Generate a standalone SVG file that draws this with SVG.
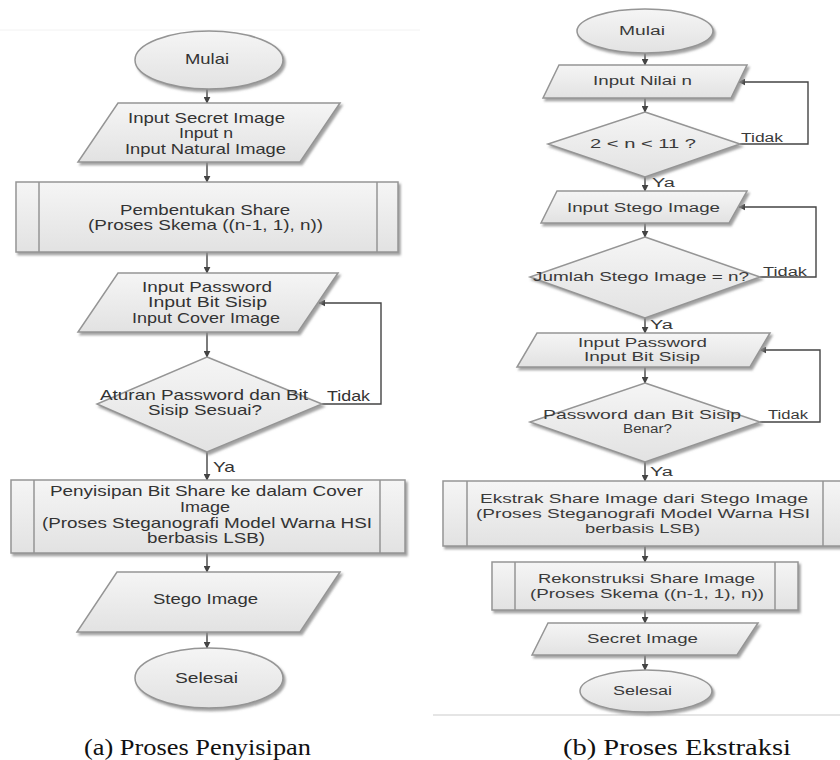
<svg xmlns="http://www.w3.org/2000/svg" width="840" height="760" viewBox="0 0 840 760">
<defs>
<linearGradient id="g" x1="0" y1="0" x2="0" y2="1">
<stop offset="0" stop-color="#f5f5f5"/>
<stop offset="1" stop-color="#e2e2e2"/>
</linearGradient>
<filter id="sh" x="-10%" y="-10%" width="130%" height="140%">
<feDropShadow dx="2" dy="2.5" stdDeviation="1.2" flood-color="#8a8a8a" flood-opacity="0.8"/>
</filter>
<marker id="ah" viewBox="0 0 10 10" refX="9" refY="5" markerWidth="7" markerHeight="7" orient="auto" markerUnits="userSpaceOnUse">
<path d="M0,0 L10,5 L0,10 z" fill="#444"/>
</marker>
</defs>
<style>
.s{fill:url(#g);stroke:#959595;stroke-width:1.5;filter:url(#sh)}
.in{stroke:#959595;stroke-width:1.5;fill:none}
.c{stroke:#444;stroke-width:1.4;fill:none;marker-end:url(#ah)}
text{font-family:"Liberation Sans",Arial,sans-serif;fill:#333;text-anchor:middle}
.a{font-size:14.5px}
.b{font-size:12.5px;fill:#3a3a3a}
.cap{font-family:"Liberation Serif","Times New Roman",serif;font-size:24px;fill:#111}
</style>
<rect width="840" height="760" fill="#fff"/>
<line x1="0" y1="30" x2="420" y2="30" stroke="#f2f2f2" stroke-width="1"/>
<line x1="433" y1="715" x2="840" y2="715" stroke="#dcdcdc" stroke-width="1.5"/>

<g id="connectors">
<line class="c" x1="207" y1="89" x2="207" y2="103"/>
<line class="c" x1="207" y1="162" x2="207" y2="182"/>
<line class="c" x1="207" y1="252" x2="207" y2="273"/>
<line class="c" x1="207" y1="332" x2="207" y2="357"/>
<polyline class="c" points="322,404 381,404 381,303 319,303"/>
<line class="c" x1="207" y1="452" x2="207" y2="480"/>
<line class="c" x1="207" y1="553" x2="207" y2="572"/>
<line class="c" x1="207" y1="632" x2="207" y2="648"/>

<line class="c" x1="645" y1="53" x2="645" y2="65"/>
<line class="c" x1="645" y1="98" x2="645" y2="112"/>
<polyline class="c" points="740,144 808,144 808,82 739,82"/>
<line class="c" x1="645" y1="177" x2="645" y2="191"/>
<line class="c" x1="645" y1="223" x2="645" y2="237"/>
<polyline class="c" points="760,277 816,277 816,207 739,207"/>
<line class="c" x1="645" y1="318" x2="645" y2="333"/>
<line class="c" x1="645" y1="367" x2="645" y2="383"/>
<polyline class="c" points="760,422 820,422 820,350 760,350"/>
<line class="c" x1="645" y1="462" x2="645" y2="481"/>
<line class="c" x1="645" y1="546" x2="645" y2="562"/>
<line class="c" x1="645" y1="610" x2="645" y2="623"/>
<line class="c" x1="645" y1="655" x2="645" y2="670"/>
</g>

<g id="a-mulai">
<ellipse class="s" cx="209" cy="60" rx="74" ry="29"/>
<text class="a" x="207" y="64" textLength="44" lengthAdjust="spacingAndGlyphs">Mulai</text>
</g>
<g id="a-input1">
<polygon class="s" points="118,103 340,103 300,162 78,162"/>
<text class="a" x="206.5" y="123" textLength="157" lengthAdjust="spacingAndGlyphs">Input Secret Image</text>
<text class="a" x="206" y="138" textLength="54" lengthAdjust="spacingAndGlyphs">Input n</text>
<text class="a" x="205.5" y="154" textLength="161" lengthAdjust="spacingAndGlyphs">Input Natural Image</text>
</g>
<g id="a-share">
<rect class="s" x="16" y="182" width="382" height="70"/>
<line class="in" x1="39" y1="182" x2="39" y2="252"/>
<line class="in" x1="377" y1="182" x2="377" y2="252"/>
<text class="a" x="205" y="215" textLength="170" lengthAdjust="spacingAndGlyphs">Pembentukan Share</text>
<text class="a" x="205.5" y="230" textLength="235" lengthAdjust="spacingAndGlyphs">(Proses Skema ((n-1, 1), n))</text>
</g>
<g id="a-input2">
<polygon class="s" points="118,273 338,273 298,332 78,332"/>
<text class="a" x="207" y="292" textLength="130" lengthAdjust="spacingAndGlyphs">Input Password</text>
<text class="a" x="207.5" y="307" textLength="119" lengthAdjust="spacingAndGlyphs">Input Bit Sisip</text>
<text class="a" x="206" y="323" textLength="148" lengthAdjust="spacingAndGlyphs">Input Cover Image</text>
</g>
<g id="a-decision">
<polygon class="s" points="207,357 322,404 207,452 97,404"/>
<text class="a" x="204" y="400" textLength="208" lengthAdjust="spacingAndGlyphs">Aturan Password dan Bit</text>
<text class="a" x="205" y="415" textLength="114" lengthAdjust="spacingAndGlyphs">Sisip Sesuai?</text>
</g>
<g id="a-labels">
<text class="a" x="348.5" y="401" textLength="43" lengthAdjust="spacingAndGlyphs">Tidak</text>
<text class="a" x="224" y="472" textLength="22" lengthAdjust="spacingAndGlyphs">Ya</text>
</g>
<g id="a-penyisipan">
<rect class="s" x="11" y="480" width="394" height="73"/>
<line class="in" x1="34" y1="480" x2="34" y2="553"/>
<line class="in" x1="380" y1="480" x2="380" y2="553"/>
<text class="a" x="206.5" y="496" textLength="313" lengthAdjust="spacingAndGlyphs">Penyisipan Bit Share ke dalam Cover</text>
<text class="a" x="205" y="512" textLength="50" lengthAdjust="spacingAndGlyphs">Image</text>
<text class="a" x="207" y="528" textLength="330" lengthAdjust="spacingAndGlyphs">(Proses Steganografi Model Warna HSI</text>
<text class="a" x="206" y="543" textLength="118" lengthAdjust="spacingAndGlyphs">berbasis LSB)</text>
</g>
<g id="a-stego">
<polygon class="s" points="117,572 340,572 300,632 77,632"/>
<text class="a" x="205.5" y="604" textLength="105" lengthAdjust="spacingAndGlyphs">Stego Image</text>
</g>
<g id="a-selesai">
<ellipse class="s" cx="209" cy="678" rx="74" ry="30"/>
<text class="a" x="206.5" y="683" textLength="63" lengthAdjust="spacingAndGlyphs">Selesai</text>
</g>

<g id="b-mulai">
<ellipse class="s" cx="645" cy="31" rx="68" ry="22"/>
<text class="b" x="642" y="35" textLength="46" lengthAdjust="spacingAndGlyphs">Mulai</text>
</g>
<g id="b-nilai">
<polygon class="s" points="559,65 747,65 731,98 543,98"/>
<text class="b" x="642.5" y="85" textLength="99" lengthAdjust="spacingAndGlyphs">Input Nilai n</text>
</g>
<g id="b-dec1">
<polygon class="s" points="645,112 740,144 645,177 548,144"/>
<text class="b" x="643" y="148" textLength="106" lengthAdjust="spacingAndGlyphs">2 &lt; n &lt; 11 ?</text>
</g>
<g id="b-stego">
<polygon class="s" points="557,191 747,191 729,223 541,223"/>
<text class="b" x="643.5" y="212" textLength="153" lengthAdjust="spacingAndGlyphs">Input Stego Image</text>
</g>
<g id="b-dec2">
<polygon class="s" points="645,237 760,277 645,318 530,277"/>
<text class="b" x="641" y="281" textLength="216" lengthAdjust="spacingAndGlyphs">Jumlah Stego Image = n?</text>
</g>
<g id="b-pass">
<polygon class="s" points="537,333 770,333 750,367 517,367"/>
<text class="b" x="642.5" y="347" textLength="129" lengthAdjust="spacingAndGlyphs">Input Password</text>
<text class="b" x="642" y="361" textLength="116" lengthAdjust="spacingAndGlyphs">Input Bit Sisip</text>
</g>
<g id="b-dec3">
<polygon class="s" points="645,383 760,422 645,462 530,422"/>
<text class="b" x="642" y="419" textLength="198" lengthAdjust="spacingAndGlyphs">Password dan Bit Sisip</text>
<text class="b" x="647.5" y="433" textLength="49" lengthAdjust="spacingAndGlyphs">Benar?</text>
</g>
<g id="b-labels">
<text class="b" x="762" y="142" textLength="42" lengthAdjust="spacingAndGlyphs">Tidak</text>
<text class="b" x="663.5" y="187" textLength="23" lengthAdjust="spacingAndGlyphs">Ya</text>
<text class="b" x="785" y="276" textLength="44" lengthAdjust="spacingAndGlyphs">Tidak</text>
<text class="b" x="661.5" y="329" textLength="23" lengthAdjust="spacingAndGlyphs">Ya</text>
<text class="b" x="788" y="419" textLength="40" lengthAdjust="spacingAndGlyphs">Tidak</text>
<text class="b" x="661.5" y="476" textLength="23" lengthAdjust="spacingAndGlyphs">Ya</text>
</g>
<g id="b-ekstrak">
<rect class="s" x="443" y="481" width="410" height="65"/>
<line class="in" x1="467" y1="481" x2="467" y2="546"/>
<line class="in" x1="823" y1="481" x2="823" y2="546"/>
<text class="b" x="644" y="503" textLength="328" lengthAdjust="spacingAndGlyphs">Ekstrak Share Image dari Stego Image</text>
<text class="b" x="643" y="518" textLength="334" lengthAdjust="spacingAndGlyphs">(Proses Steganografi Model Warna HSI</text>
<text class="b" x="642.5" y="533" textLength="115" lengthAdjust="spacingAndGlyphs">berbasis LSB)</text>
</g>
<g id="b-rekon">
<rect class="s" x="492" y="562" width="306" height="48"/>
<line class="in" x1="515" y1="562" x2="515" y2="610"/>
<line class="in" x1="775" y1="562" x2="775" y2="610"/>
<text class="b" x="646.5" y="583" textLength="217" lengthAdjust="spacingAndGlyphs">Rekonstruksi Share Image</text>
<text class="b" x="647" y="598" textLength="234" lengthAdjust="spacingAndGlyphs">(Proses Skema ((n-1, 1), n))</text>
</g>
<g id="b-secret">
<polygon class="s" points="548,623 758,623 737,655 532,655"/>
<text class="b" x="642.5" y="643" textLength="111" lengthAdjust="spacingAndGlyphs">Secret Image</text>
</g>
<g id="b-selesai">
<ellipse class="s" cx="646" cy="691" rx="66" ry="21"/>
<text class="b" x="642.5" y="695" textLength="59" lengthAdjust="spacingAndGlyphs">Selesai</text>
</g>

<g id="captions">
<text class="cap" x="197.5" y="755" textLength="227" lengthAdjust="spacingAndGlyphs">(a) Proses Penyisipan</text>
<text class="cap" x="677" y="755" textLength="228" lengthAdjust="spacingAndGlyphs">(b) Proses Ekstraksi</text>
</g>
</svg>
